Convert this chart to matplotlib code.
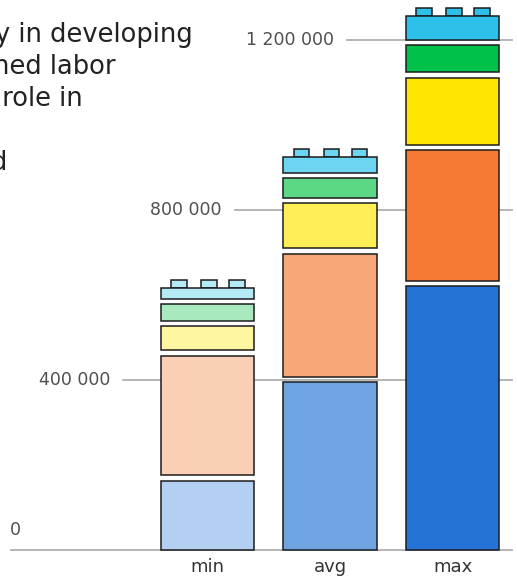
import numpy as np
import matplotlib
matplotlib.use('Agg')
import matplotlib.pyplot as plt
import matplotlib.transforms as mtransforms

plt.rcParams['font.family'] = ['DejaVu Sans']

# data: each bar is a stack of bricks, bottom to top
categories = ['min', 'avg', 'max']
blue_vals = [176000, 408000, 634000]
orange_vals = [294000, 302000, 319000]
yellow_vals = [69000, 118000, 171000]
green_vals = [52000, 59000, 76000]
cap_vals = [37000, 51000, 70000]
ytick_vals = [0, 400000, 800000, 1200000]
ytick_labels = ['0', '400 000', '800 000', '1 200 000']
title_lines = ['y in developing', 'ned labor', ' role in', '', 'd']

# colours per layer, light -> dark for min/avg/max
blue_cols = ['#b3cff1', '#6fa3e2', '#2574d5']
orange_cols = ['#fbcfb6', '#f8a878', '#f77a32']
yellow_cols = ['#fff6a2', '#ffee55', '#ffe600']
green_cols = ['#a8e9be', '#5bd785', '#00c14a']
cap_cols = ['#b4e9f6', '#6dd4f1', '#2dc0eb']

W, H = 517, 581
fig = plt.figure(figsize=(W / 100, H / 100), dpi=100)
ax = fig.add_axes([0, 0, 1, 1])
ax.axis('off')

# pixel layout -> data limits
px_per_unit = 510 / 1200000        # 400k per 170 px
x0_px, step_px = 207.5, 122.5       # centre of first bar, bar spacing
base_px = 31                        # baseline from bottom
ax.set_xlim(-x0_px / step_px, (W - x0_px) / step_px)
ax.set_ylim(-base_px / px_per_unit, (H - base_px) / px_per_unit)

gap = 5.3 / px_per_unit
bar_w = 0.76
edge = '#1c1c1c'
lw = 1.1

# grid lines, staggered start like the original
trans = mtransforms.blended_transform_factory(ax.transAxes, ax.transData)
for i, (v, lab) in enumerate(zip(ytick_vals, ytick_labels)):
    start = 11 + 112 * i
    ax.axhline(v, xmin=start / W, xmax=512 / W, color='#b0b0b0', lw=1.3, zorder=0)
    if i == 0:
        ax.text(10 / W, v + 20 / px_per_unit, lab, transform=trans, ha='left',
                va='center', fontsize=12.5, color='#505050')
    else:
        ax.text((start - 13) / W, v, lab, transform=trans, ha='right',
                va='center', fontsize=12.5, color='#505050')

x = np.arange(len(categories))
layers = [(blue_vals, blue_cols), (orange_vals, orange_cols),
          (yellow_vals, yellow_cols), (green_vals, green_cols),
          (cap_vals, cap_cols)]
bottom = np.zeros(len(categories))
for vals, cols in layers:
    vals = np.array(vals, dtype=float)
    ax.bar(x, vals - gap, bottom=bottom, width=bar_w, color=cols,
           edgecolor=edge, linewidth=lw, zorder=2)
    bottom = bottom + vals

# studs on top of the cap brick
stud_h = 8 / px_per_unit
stud_w = 0.125
for off in [-0.232, 0.012, 0.242]:
    ax.bar(x + off, stud_h, bottom=bottom - gap, width=stud_w, color=cap_cols,
           edgecolor=edge, linewidth=lw, zorder=1)

# category labels
for xi, cat in zip(x, categories):
    ax.text(xi, -17 / px_per_unit, cat, ha='center', va='center',
            fontsize=13, color='#333333')

# cropped title text at top-left (runs off the left edge, as in the original)
ends = [193, 116, 83, 0, 7]
for k, (line, xe) in enumerate(zip(title_lines, ends)):
    if line:
        fig.text(xe / W, 1 - (42.5 + 32 * k) / H, line, ha='right',
                 va='baseline', fontsize=18.5, color='#222222')

fig.savefig('out.png', dpi=100)
